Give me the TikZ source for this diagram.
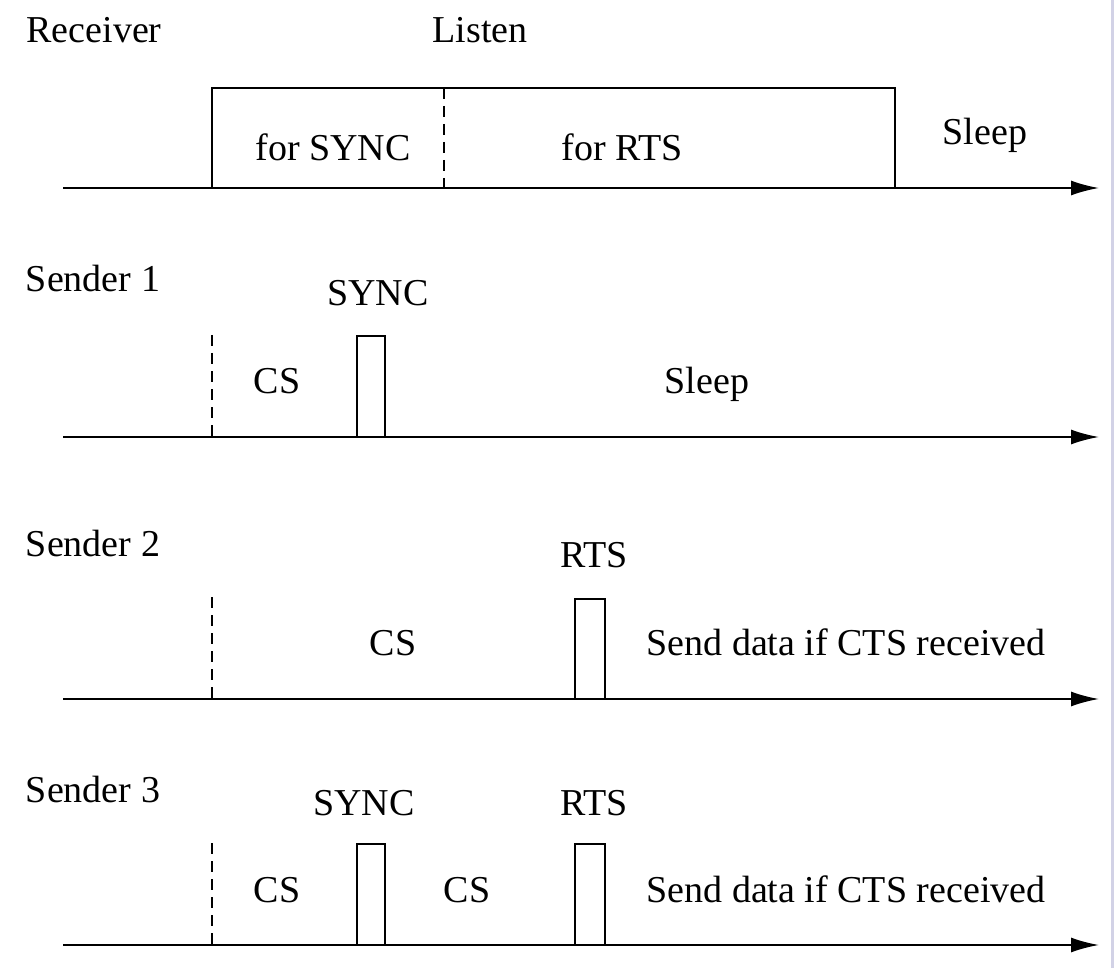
\documentclass[tikz,border=0pt]{standalone}
\usepackage{fontspec}
\setmainfont{Liberation Serif}
\usepackage{xcolor}
\definecolor{edge}{HTML}{D2D2E6}
\usetikzlibrary{arrows.meta}

\begin{document}
\begin{tikzpicture}[x=1pt, y=-1pt,
  lbl/.style={anchor=base, inner sep=0pt, font=\fontsize{38}{46}\selectfont},
  axis/.style={line width=2pt, -{Latex[length=28pt,width=15pt]}},
  slot/.style={line width=1.8pt},
  split/.style={line width=2pt, dash pattern=on 11pt off 7pt}
]
  \useasboundingbox (0,0) rectangle (1114,968);
  \fill[white] (0,0) rectangle (1114,968);
  \fill[edge] (1111,0) rectangle (1114,968);

  % time axes
  \foreach \name/\y in {recv/188, sone/437, stwo/699, sthree/945} {
    \coordinate (\name-a) at (63,\y);
    \coordinate (\name-b) at (1099,\y);
    \draw[axis] (\name-a) -- (\name-b);
  }

  % receiver
  \node[lbl] (receiver) at (94,43) {Receiver};
  \node[lbl] (listen) at (480,43) {Listen};
  \draw[slot] (212,188) |- (895,88) -- (895,188);
  \draw[split] (444,88) -- (444,188);
  \node[lbl] (forsync) at (333,161) {for SYNC};
  \node[lbl] (forrts) at (622,161) {for RTS};
  \node[lbl] (rsleep) at (985,145) {Sleep};

  % sender 1
  \node[lbl] (sender1) at (93,292) {Sender 1};
  \draw[split] (212,335) -- (212,437);
  \draw[slot] (357,437) |- (385,336) -- (385,437);
  \node[lbl] (sync1) at (378,306) {SYNC};
  \node[lbl] (cs1) at (277,393) {CS};
  \node[lbl] (sleep1) at (707,393) {Sleep};

  % sender 2
  \node[lbl] (sender2) at (93,556) {Sender 2};
  \draw[split] (212,597) -- (212,699);
  \draw[slot] (575,699) |- (605,599) -- (605,699);
  \node[lbl] (rts2) at (594,567) {RTS};
  \node[lbl] (cs2) at (393,655) {CS};
  \node[lbl] (data2) at (846,655) {Send data if CTS received};

  % sender 3
  \node[lbl] (sender3) at (93,802) {Sender 3};
  \draw[split] (212,843) -- (212,945);
  \draw[slot] (357,945) |- (385,844) -- (385,945);
  \draw[slot] (575,945) |- (605,844) -- (605,945);
  \node[lbl] (sync3) at (364,815) {SYNC};
  \node[lbl] (rts3) at (594,815) {RTS};
  \node[lbl] (cs3a) at (277,902) {CS};
  \node[lbl] (cs3b) at (467,902) {CS};
  \node[lbl] (data3) at (846,902) {Send data if CTS received};
\end{tikzpicture}
\end{document}
